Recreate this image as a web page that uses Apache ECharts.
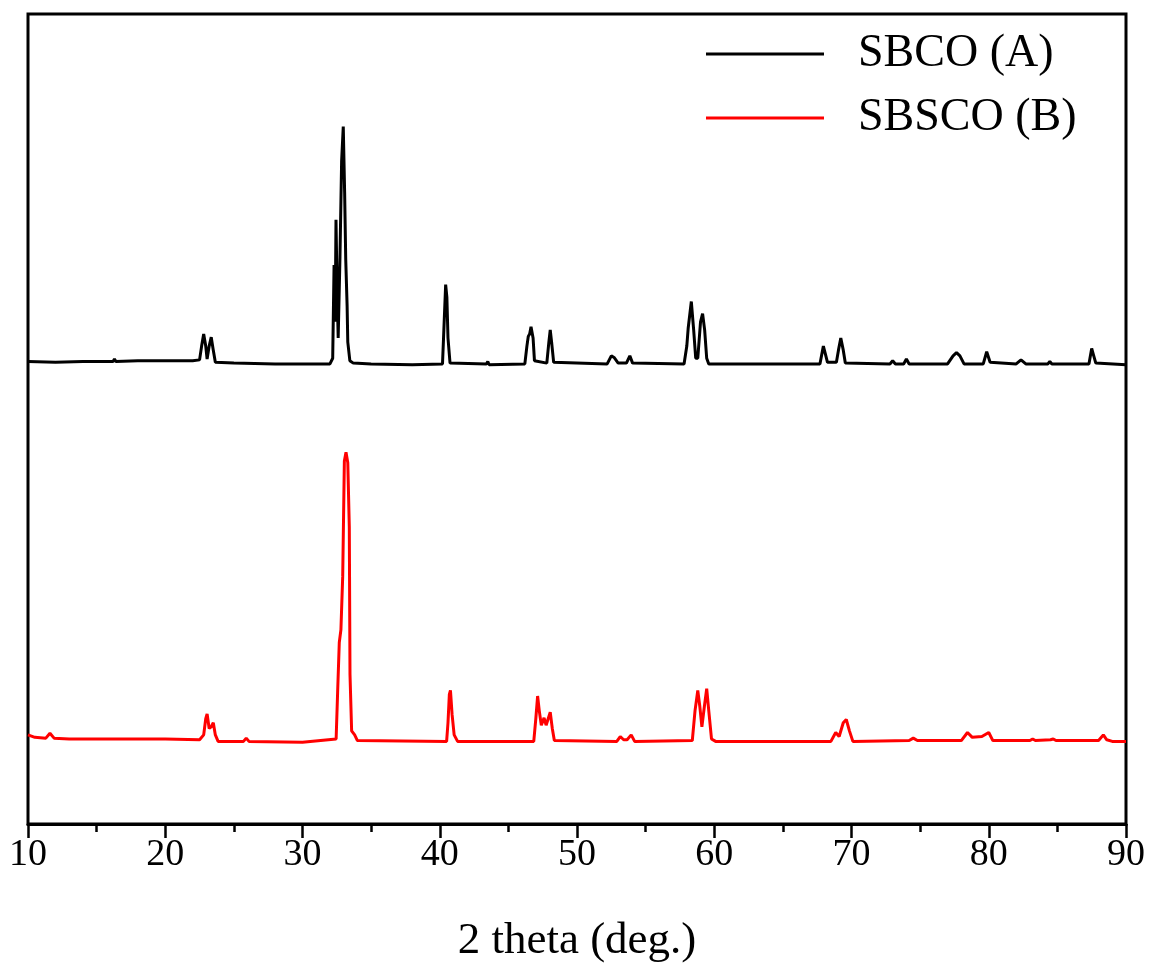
<!DOCTYPE html>
<html>
<head>
<meta charset="utf-8">
<title>XRD patterns</title>
<script src="https://cdn.jsdelivr.net/npm/echarts@6/dist/echarts.min.js"></script>
<style>
  html, body { margin: 0; padding: 0; background: #fff; }
  #chart { width: 1152px; height: 969px; }
</style>
</head>
<body>
<div id="chart"></div>
<script>
// Tick labels along 2 theta
const xTicks = [10, 20, 30, 40, 50, 60, 70, 80, 90];

// Series names
const seriesNames = ['SBCO (A)', 'SBSCO (B)'];

// SBCO (A): [2 theta, intensity (a.u., offset upward)]
const sbcoPattern = [
  [10.0, 571], [12.0, 570], [14.0, 571], [16.2, 571], [16.3, 574], [16.4, 571],
  [18.0, 572], [20.0, 572], [22.0, 572], [22.5, 573],
  [22.65, 590], [22.8, 605], [22.95, 590], [23.05, 574], [23.2, 590], [23.35, 601], [23.5, 585], [23.65, 570],
  [25.0, 569], [28.0, 568], [30.0, 568], [32.0, 568],
  [32.2, 575], [32.3, 690], [32.38, 620], [32.44, 746], [32.52, 660], [32.6, 600],
  [32.73, 700], [32.85, 818], [32.97, 861], [33.07, 780], [33.15, 697], [33.25, 640], [33.3, 595],
  [33.45, 572], [33.7, 569],
  [35.0, 568], [38.0, 567], [40.2, 568],
  [40.3, 610], [40.43, 666], [40.52, 650], [40.6, 600], [40.75, 569],
  [43.4, 568], [43.5, 571], [43.6, 567],
  [46.2, 568], [46.35, 590], [46.45, 602], [46.55, 605], [46.65, 614], [46.8, 600], [46.9, 572],
  [47.8, 569], [47.95, 595], [48.05, 610], [48.15, 595], [48.3, 570],
  [52.2, 568], [52.5, 578], [52.7, 576], [53.0, 569],
  [53.6, 569], [53.85, 578], [54.05, 569],
  [57.8, 568], [58.0, 590], [58.1, 612], [58.33, 645], [58.5, 610], [58.65, 575],
  [58.8, 575], [59.0, 620], [59.15, 630], [59.3, 610], [59.45, 575], [59.6, 568],
  [67.7, 568], [67.95, 590], [68.1, 580], [68.25, 570],
  [68.9, 570], [69.05, 585], [69.22, 600], [69.4, 585], [69.55, 569],
  [72.8, 568], [73.0, 572], [73.2, 568],
  [73.8, 568], [74.0, 574], [74.2, 568],
  [77.0, 568], [77.4, 578], [77.65, 582], [77.9, 578], [78.2, 568],
  [79.6, 568], [79.85, 583], [80.1, 570],
  [82.0, 568], [82.35, 573], [82.7, 568],
  [84.3, 568], [84.45, 571], [84.6, 568],
  [87.3, 568], [87.5, 587], [87.65, 578], [87.8, 569],
  [90.0, 567]
];

// SBSCO (B): [2 theta, intensity (a.u.)]
const sbscoPattern = [
  [10.0, 110], [10.5, 107], [11.3, 106], [11.6, 112], [11.9, 106],
  [13.0, 105], [16.0, 105], [20.0, 105], [22.5, 104],
  [22.8, 110], [22.95, 130], [23.05, 136], [23.2, 118], [23.35, 120], [23.5, 125], [23.65, 110], [23.85, 102],
  [25.7, 102], [25.9, 106], [26.1, 102],
  [30.0, 101], [32.45, 105],
  [32.56, 163], [32.68, 224], [32.8, 240], [32.93, 306], [33.05, 448], [33.17, 459],
  [33.3, 446], [33.41, 367], [33.46, 185], [33.58, 115], [33.8, 110], [34.0, 103],
  [40.5, 102], [40.6, 125], [40.7, 160], [40.78, 165], [40.9, 135], [41.05, 110], [41.3, 102],
  [46.85, 102], [47.0, 130], [47.13, 158], [47.25, 140], [47.4, 122], [47.6, 131],
  [47.75, 122], [47.9, 130], [48.05, 138], [48.2, 118], [48.35, 103],
  [52.9, 102], [53.15, 108], [53.4, 104], [53.65, 104], [53.95, 110], [54.2, 102],
  [58.4, 103], [58.6, 140], [58.8, 165], [58.95, 145], [59.1, 120], [59.28, 145],
  [59.45, 167], [59.6, 140], [59.8, 105], [60.1, 102],
  [68.5, 102], [68.85, 113], [69.1, 108], [69.4, 125], [69.62, 129], [69.85, 115], [70.1, 102],
  [74.2, 103], [74.5, 106], [74.8, 103],
  [78.0, 103], [78.45, 113], [78.8, 107], [79.5, 108], [80.0, 113], [80.3, 103],
  [83.0, 103], [83.2, 105], [83.4, 103],
  [84.5, 104], [84.7, 105], [84.9, 103],
  [88.0, 103], [88.35, 110], [88.6, 104], [89.0, 102], [90.0, 102]
];

const serif = '"Liberation Serif", "DejaVu Serif", serif';

const chart = echarts.init(document.getElementById('chart'), null, { renderer: 'canvas' });

chart.setOption({
  backgroundColor: '#ffffff',
  animation: false,
  grid: {
    left: 28, right: 26, top: 14, bottom: 144,
    show: true, borderColor: '#000', borderWidth: 3, backgroundColor: 'transparent'
  },
  legend: {
    orient: 'vertical',
    left: 706,
    top: 31,
    padding: 0,
    itemWidth: 118,
    itemHeight: 3,
    itemGap: 18,
    icon: 'rect',
    textStyle: { fontFamily: serif, fontSize: 46, color: '#000', lineHeight: 46, padding: [0, 0, 0, 29] },
    data: seriesNames
  },
  xAxis: {
    type: 'value',
    min: xTicks[0],
    max: xTicks[xTicks.length - 1],
    interval: 10,
    name: '2 theta (deg.)',
    nameLocation: 'middle',
    nameGap: 95,
    nameTextStyle: { fontFamily: serif, fontSize: 45, color: '#000' },
    axisLine: { show: true, onZero: false, lineStyle: { color: '#000', width: 3 } },
    axisTick: { show: true, inside: false, length: 14, lineStyle: { color: '#000', width: 2.5 } },
    minorTick: { show: true, splitNumber: 2, length: 8, lineStyle: { color: '#000', width: 2.5 } },
    axisLabel: { fontFamily: serif, fontSize: 38, color: '#000', margin: 12 },
    splitLine: { show: false }
  },
  yAxis: {
    type: 'value',
    min: 0,
    max: 1000,
    axisLine: { show: false },
    axisTick: { show: false },
    axisLabel: { show: false },
    splitLine: { show: false }
  },
  series: [
    {
      name: seriesNames[0],
      type: 'line',
      data: sbcoPattern,
      showSymbol: false,
      symbol: 'none',
      color: '#000000',
      lineStyle: { color: '#000000', width: 3 }
    },
    {
      name: seriesNames[1],
      type: 'line',
      data: sbscoPattern,
      showSymbol: false,
      symbol: 'none',
      color: '#ff0000',
      lineStyle: { color: '#ff0000', width: 3 }
    }
  ]
});
</script>
</body>
</html>
